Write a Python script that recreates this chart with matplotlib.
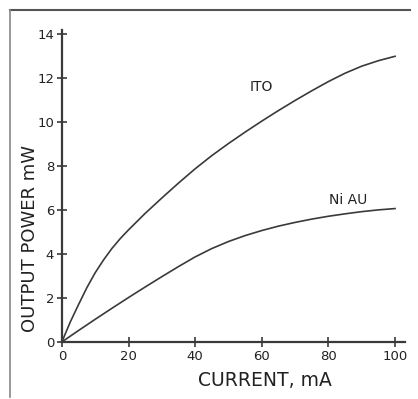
import matplotlib
matplotlib.use("Agg")
import matplotlib.pyplot as plt
from matplotlib.lines import Line2D

ito_current = [0, 2.5, 5, 7.5, 10, 12.5, 15, 17.5, 20, 25, 30, 35, 40, 45, 50, 55, 60,
               65, 70, 75, 80, 85, 90, 95, 100]
ito = [0, 0.9, 1.7, 2.47, 3.15, 3.73, 4.25, 4.7, 5.1, 5.85, 6.55, 7.23, 7.88, 8.48,
       9.03, 9.55, 10.05, 10.53, 10.99, 11.43, 11.85, 12.23, 12.55, 12.8, 13.0]
niau_current = [0, 5, 10, 15, 20, 25, 30, 35, 40, 45, 50, 55, 60, 65, 70, 75, 80,
                85, 90, 95, 100]
niau = [0, 0.52, 1.03, 1.53, 2.02, 2.5, 2.97, 3.43, 3.87, 4.25, 4.57, 4.84, 5.07,
        5.27, 5.44, 5.59, 5.72, 5.83, 5.93, 6.01, 6.07]
xticks = [0, 20, 40, 60, 80, 100]
xticklabels = ["0", "20", "40", "60", "80", "100"]
yticks = [0, 2, 4, 6, 8, 10, 12, 14]

ink = "#3a3a3a"
fig = plt.figure(figsize=(4.18, 3.99), dpi=100)
ax = fig.add_axes([0.148, 0.143, 0.821, 0.782])
ax.plot(ito_current, ito, color=ink, lw=1.2)
ax.plot(niau_current, niau, color=ink, lw=1.2)
ax.set_xlim(0, 103)
ax.set_ylim(0, 14.2)
for s in ["top", "right"]:
    ax.spines[s].set_visible(False)
for s in ["left", "bottom"]:
    ax.spines[s].set_color(ink)
    ax.spines[s].set_linewidth(1.6)
ax.set_xticks(xticks)
ax.set_xticklabels(xticklabels)
ax.set_yticks(yticks)
ax.tick_params(direction="inout", length=7, width=1.2, color=ink,
               labelcolor="#222222", labelsize=9.5, pad=2)
ax.text(60, 11.4, "ITO", fontsize=10, color="#222222", ha="center")
ax.text(86, 6.3, "Ni AU", fontsize=10, color="#222222", ha="center")

fig.text(30/418, 1 - 238/399, "OUTPUT POWER mW", rotation=90, ha="center",
         va="center", fontsize=13, color="#222222")
fig.text(265/418, 1 - 381/399, "CURRENT, mA", ha="center", va="center",
         fontsize=13.5, color="#222222")

fig.add_artist(Line2D([10/418, 410/418], [1 - 10/399, 1 - 10/399],
                      color="#555555", lw=1.5, transform=fig.transFigure))
fig.add_artist(Line2D([10/418, 10/418], [1 - 10/399, 1 - 397/399],
                      color="#888888", lw=1.2, transform=fig.transFigure))
fig.savefig("out.png", dpi=100)
